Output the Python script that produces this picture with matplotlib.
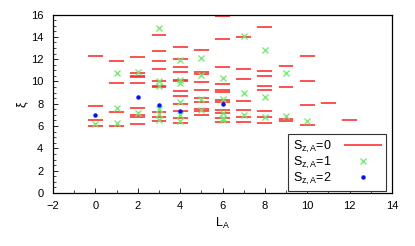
import matplotlib
matplotlib.use("Agg")
import matplotlib.pyplot as plt
from matplotlib.ticker import MultipleLocator

plt.rcParams["font.family"] = ["Liberation Sans", "DejaVu Sans"]
plt.rcParams["mathtext.fontset"] = "custom"
plt.rcParams["mathtext.rm"] = "Liberation Sans"
plt.rcParams["mathtext.it"] = "Liberation Sans:italic"

# levels per L_A for each S_z,A sector
s0_L = [0, 1, 2, 3, 4, 5, 6, 7, 8, 9, 10, 11, 12]
s0_xi = [
    [12.3, 7.8, 6.55, 6.0],
    [11.85, 9.86, 7.29, 6.03],
    [12.2, 10.73, 10.5, 10.39, 9.88, 7.63, 6.95, 6.85, 6.15],
    [14.19, 12.7, 11.8, 11.1, 10.05, 9.6, 9.48, 7.23, 6.78, 6.48],
    [13.08, 11.98, 11.26, 10.85, 10.1, 10.0, 9.1, 8.7, 8.0, 7.37, 6.7, 6.24],
    [12.84, 10.87, 10.66, 9.95, 9.23, 8.48, 8.12, 7.53, 7.35, 6.96],
    [15.89, 13.8, 11.32, 9.77, 9.23, 9.05, 8.33, 8.15, 7.44, 7.2, 6.75, 6.36],
    [14.0, 11.14, 10.24, 8.22, 7.41, 6.81, 6.33],
    [14.87, 10.93, 10.51, 9.56, 9.23, 7.32, 6.84, 6.3],
    [11.35, 9.5, 6.6, 6.48],
    [12.28, 10.06, 7.86, 6.12],
    [8.06],
    [6.54],
]

s1_L = [0, 1, 2, 3, 4, 5, 6, 7, 8, 9, 10]
s1_xi = [
    [6.18],
    [10.78, 7.62, 6.3],
    [10.85, 7.17],
    [14.76, 10.0, 9.6, 7.54, 7.06, 6.54],
    [11.89, 10.12, 9.83, 8.18, 6.96, 6.45],
    [12.1, 10.57, 8.45, 7.47],
    [10.3, 8.45, 7.14, 6.75, 6.5],
    [14.1, 8.99, 6.96],
    [12.79, 8.58, 6.8],
    [10.78, 6.9],
    [6.42],
]

s2_L = [0, 2, 3, 4, 6]
s2_xi = [6.96, 8.63, 7.86, 7.37, 7.97]

half_w = 0.35

fig = plt.figure(figsize=(4.15, 2.46), dpi=100)
ax = fig.add_axes([0.1277, 0.2154, 0.8169, 0.7256])

first = True
for L, levels in zip(s0_L, s0_xi):
    for v in levels:
        ax.hlines(v, L - half_w, L + half_w, color="#ff2020", lw=1.1,
                  label=r"S$_{\mathrm{z,A}}$=0" if first else None)
        first = False

first = True
for L, levels in zip(s1_L, s1_xi):
    ax.plot([L] * len(levels), levels, linestyle="none", marker="x",
            color="#66ee66", ms=4.5, mew=0.9,
            label=r"S$_{\mathrm{z,A}}$=1" if first else None)
    first = False

ax.plot(s2_L, s2_xi, linestyle="none", marker="o", color="#0010ff",
        ms=2.2, label=r"S$_{\mathrm{z,A}}$=2")

ax.set_xlim(-2, 14)
ax.set_ylim(0, 16)
ax.xaxis.set_major_locator(MultipleLocator(2))
ax.xaxis.set_minor_locator(MultipleLocator(1))
ax.yaxis.set_major_locator(MultipleLocator(2))
ax.yaxis.set_minor_locator(MultipleLocator(0.5))
ax.tick_params(which="both", direction="in", labelsize=8, top=False, right=False)
ax.tick_params(which="major", length=3.5, width=0.6)
ax.tick_params(which="minor", length=2, width=0.5)
ax.tick_params(axis="x", pad=6)
ax.tick_params(axis="y", pad=7)
for sp in ax.spines.values():
    sp.set_linewidth(0.9)

ax.set_xlabel(r"L$_\mathrm{A}$", fontsize=9, labelpad=3)
ax.set_ylabel("ξ", fontsize=9, labelpad=2)

leg = ax.legend(loc="lower right", fontsize=9, markerfirst=False,
                handlelength=3.0, labelspacing=0.0, fancybox=False,
                edgecolor="#333333", borderpad=0.35, handletextpad=1.0,
                borderaxespad=0, bbox_to_anchor=(0.982, 0.011), framealpha=1)
leg.get_frame().set_linewidth(0.8)

fig.savefig("out.png", dpi=100)
